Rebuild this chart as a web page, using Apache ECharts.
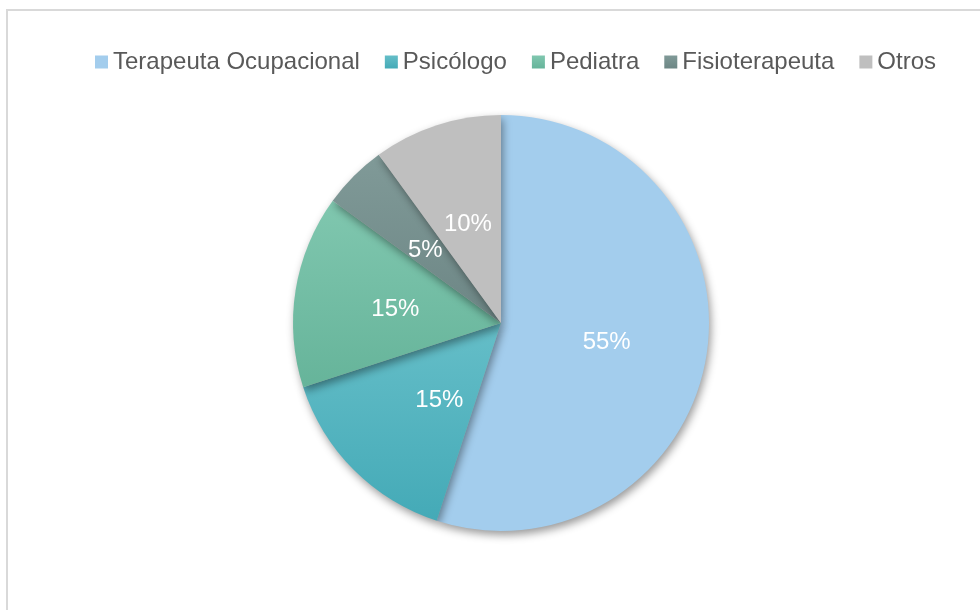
<!DOCTYPE html>
<html>
<head>
<meta charset="utf-8">
<script src="https://cdn.jsdelivr.net/npm/echarts@6/dist/echarts.min.js"></script>
<style>
  html, body { margin: 0; padding: 0; background: #fff; }
  #chart-container { width: 980px; height: 610px; }
</style>
</head>
<body>
<div id="chart-container"></div>
<script>
var dom = document.getElementById('chart-container');
var myChart = echarts.init(dom, null, { renderer: 'canvas' });

// data
const categories = ['Terapeuta Ocupacional', 'Psicólogo', 'Pediatra', 'Fisioterapeuta', 'Otros'];
const values = [55, 15, 15, 5, 10];
// top / bottom colour of each slice (they fade slightly downwards)
const topColors = ['#A3CDED', '#65BEC8', '#80C7AF', '#809A98', '#BFBFBF'];
const bottomColors = ['#A3CDED', '#44AAB7', '#66B49A', '#6D8685', '#BFBFBF'];

function grad(i) {
    return new echarts.graphic.LinearGradient(0, 0, 0, 1, [
        { offset: 0, color: topColors[i] },
        { offset: 1, color: bottomColors[i] }
    ]);
}

var option = {
    backgroundColor: '#fff',
    animation: false,
    graphic: [{
        type: 'rect',
        shape: { x: 7, y: 10, width: 1000, height: 700 },
        style: { fill: 'none', stroke: '#D9D9D9', lineWidth: 2 },
        silent: true
    }],
    legend: {
        top: 45,
        left: 90,
        itemWidth: 13,
        itemHeight: 13,
        itemGap: 25,
        icon: 'rect',
        textStyle: {
            fontFamily: 'Liberation Sans, Arial, sans-serif',
            fontSize: 24,
            color: '#595959'
        },
        data: categories.map(function (name, i) {
            return { name: name, itemStyle: { color: grad(i) } };
        })
    },
    series: [{
        type: 'pie',
        center: [501, 323],
        radius: 208,
        startAngle: 90,
        clockwise: true,
        label: {
            show: true,
            position: 'inside',
            formatter: '{d}%',
            color: '#fff',
            fontFamily: 'Liberation Sans, Arial, sans-serif',
            fontSize: 24,
            offset: [0, 3]
        },
        labelLine: { show: false },
        emphasis: { disabled: true },
        itemStyle: {
            shadowBlur: 8,
            shadowOffsetX: 2,
            shadowOffsetY: 4,
            shadowColor: 'rgba(0,0,0,0.4)'
        },
        data: categories.map(function (name, i) {
            var item = { name: name, value: values[i], itemStyle: { color: grad(i) } };
            if (i === 1) item.label = { offset: [14, 2] };
            return item;
        })
    }]
};

myChart.setOption(option);
window.addEventListener('resize', myChart.resize);
</script>
</body>
</html>
